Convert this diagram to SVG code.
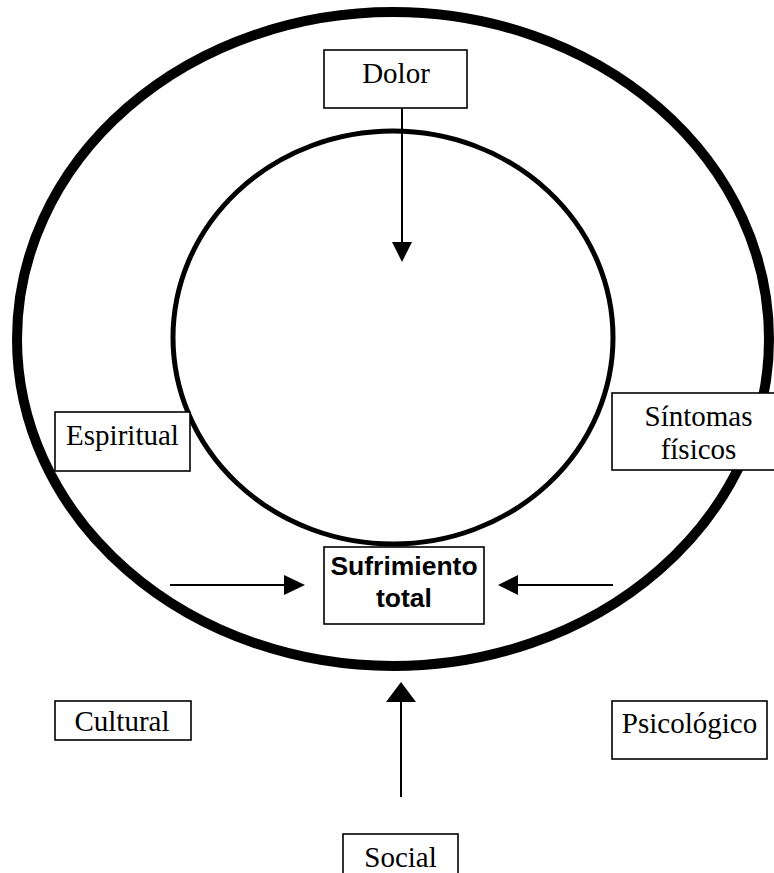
<svg xmlns="http://www.w3.org/2000/svg" width="774" height="873" viewBox="0 0 774 873">
<style>
.box{fill:#fff;stroke:#000;stroke-width:1.6}
.t{font-family:"Liberation Serif","Times New Roman",serif;font-size:29px;fill:#000;text-anchor:middle}
.b{font-family:"Liberation Sans",Arial,sans-serif;font-size:26.5px;font-weight:bold;fill:#000;text-anchor:middle}
.ln{stroke:#000;stroke-width:2;fill:none}
.hd{fill:#000;stroke:none}
</style>
<rect width="774" height="873" fill="#fff"/>
<g id="rings">
<ellipse cx="393" cy="339" rx="376" ry="327" fill="none" stroke="#000" stroke-width="10"/>
<ellipse cx="393" cy="337.5" rx="220" ry="206.5" fill="none" stroke="#000" stroke-width="5"/>
</g>
<g id="connectors">
<line class="ln" x1="402" y1="108" x2="402" y2="244"/>
<polygon class="hd" points="392,242 412,242 402,262"/>
<line class="ln" x1="170" y1="585" x2="286" y2="585"/>
<polygon class="hd" points="284,575 284,595 305,585"/>
<line class="ln" x1="613" y1="585" x2="516" y2="585"/>
<polygon class="hd" points="518,575 518,595 498,585"/>
<line class="ln" x1="401" y1="797" x2="401" y2="700"/>
<polygon class="hd" points="386,702 416,702 401,682"/>
</g>
<g id="dolor">
<rect class="box" x="324" y="50" width="143" height="58"/>
<text class="t" x="396" y="83">Dolor</text>
</g>
<g id="espiritual">
<rect class="box" x="55" y="412" width="135" height="59"/>
<text class="t" x="122.5" y="445">Espiritual</text>
</g>
<g id="sintomas">
<rect class="box" x="612" y="393" width="175" height="77"/>
<text class="t" x="698.5" y="426">Síntomas</text>
<text class="t" x="698.5" y="459">físicos</text>
</g>
<g id="sufrimiento">
<rect class="box" x="324" y="547" width="160" height="77"/>
<text class="b" x="404" y="575">Sufrimiento</text>
<text class="b" x="404" y="607">total</text>
</g>
<g id="cultural">
<rect class="box" x="55" y="701" width="136" height="39"/>
<text class="t" x="122" y="731">Cultural</text>
</g>
<g id="psicologico">
<rect class="box" x="612" y="701" width="155" height="58"/>
<text class="t" x="689.5" y="733">Psicológico</text>
</g>
<g id="social">
<rect class="box" x="343" y="834" width="115" height="50"/>
<text class="t" x="400.5" y="867">Social</text>
</g>
</svg>
